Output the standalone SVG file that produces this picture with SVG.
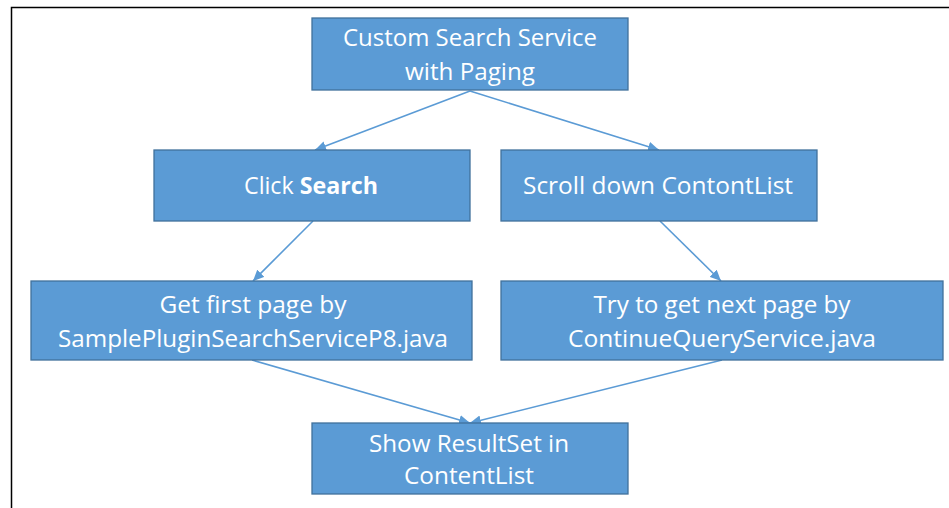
<svg xmlns="http://www.w3.org/2000/svg" width="949" height="508" viewBox="0 0 949 508">
<defs>
<style>
.box{fill:#5B9BD5;stroke:#41719C;stroke-width:1.3}
.t{font-family:"Open Sans","Noto Sans","Liberation Sans",sans-serif;font-size:24px;fill:#FFFFFF;text-anchor:middle}
.b{font-weight:bold}
.c{stroke:#5B9BD5;stroke-width:1.6;fill:none;marker-end:url(#ah)}
</style>
<marker id="ah" markerUnits="userSpaceOnUse" markerWidth="12" markerHeight="10" refX="11" refY="5" orient="auto">
<path d="M0,0 L11,5 L0,10 z" fill="#5B9BD5"/>
</marker>
</defs>
<rect x="0" y="0" width="949" height="508" fill="#FFFFFF"/>
<path d="M11.5,508 V7.5 H949" fill="none" stroke="#000000" stroke-width="1.5"/>
<g id="connectors">
<line class="c" x1="470" y1="91" x2="315" y2="150"/>
<line class="c" x1="470" y1="91" x2="659" y2="150"/>
<line class="c" x1="313" y1="221" x2="253" y2="281"/>
<line class="c" x1="660" y1="221" x2="721" y2="281"/>
<line class="c" x1="252" y1="360" x2="470" y2="423"/>
<line class="c" x1="722" y1="360" x2="470" y2="423"/>
</g>
<g id="custom-search">
<rect class="box" x="312" y="18" width="316" height="72"/>
<text class="t" x="470" y="46" textLength="254" lengthAdjust="spacingAndGlyphs">Custom Search Service</text>
<text class="t" x="470" y="80" textLength="130" lengthAdjust="spacingAndGlyphs">with Paging</text>
</g>
<g id="click-search">
<rect class="box" x="154" y="150" width="316" height="71"/>
<text class="t" x="311" y="194" textLength="134" lengthAdjust="spacingAndGlyphs">Click <tspan class="b">Search</tspan></text>
</g>
<g id="scroll-down">
<rect class="box" x="501" y="150" width="316" height="71"/>
<text class="t" x="658" y="194" textLength="270" lengthAdjust="spacingAndGlyphs">Scroll down ContontList</text>
</g>
<g id="get-first">
<rect class="box" x="31" y="281" width="441" height="79"/>
<text class="t" x="253" y="313" textLength="187" lengthAdjust="spacingAndGlyphs">Get first page by</text>
<text class="t" x="253" y="347" textLength="390" lengthAdjust="spacingAndGlyphs">SamplePluginSearchServiceP8.java</text>
</g>
<g id="try-next">
<rect class="box" x="501" y="281" width="442" height="79"/>
<text class="t" x="722" y="313" textLength="257" lengthAdjust="spacingAndGlyphs">Try to get next page by</text>
<text class="t" x="722" y="347" textLength="308" lengthAdjust="spacingAndGlyphs">ContinueQueryService.java</text>
</g>
<g id="show-result">
<rect class="box" x="312" y="423" width="316" height="71"/>
<text class="t" x="469" y="452" textLength="200" lengthAdjust="spacingAndGlyphs">Show ResultSet in</text>
<text class="t" x="469" y="484" textLength="130" lengthAdjust="spacingAndGlyphs">ContentList</text>
</g>
</svg>
